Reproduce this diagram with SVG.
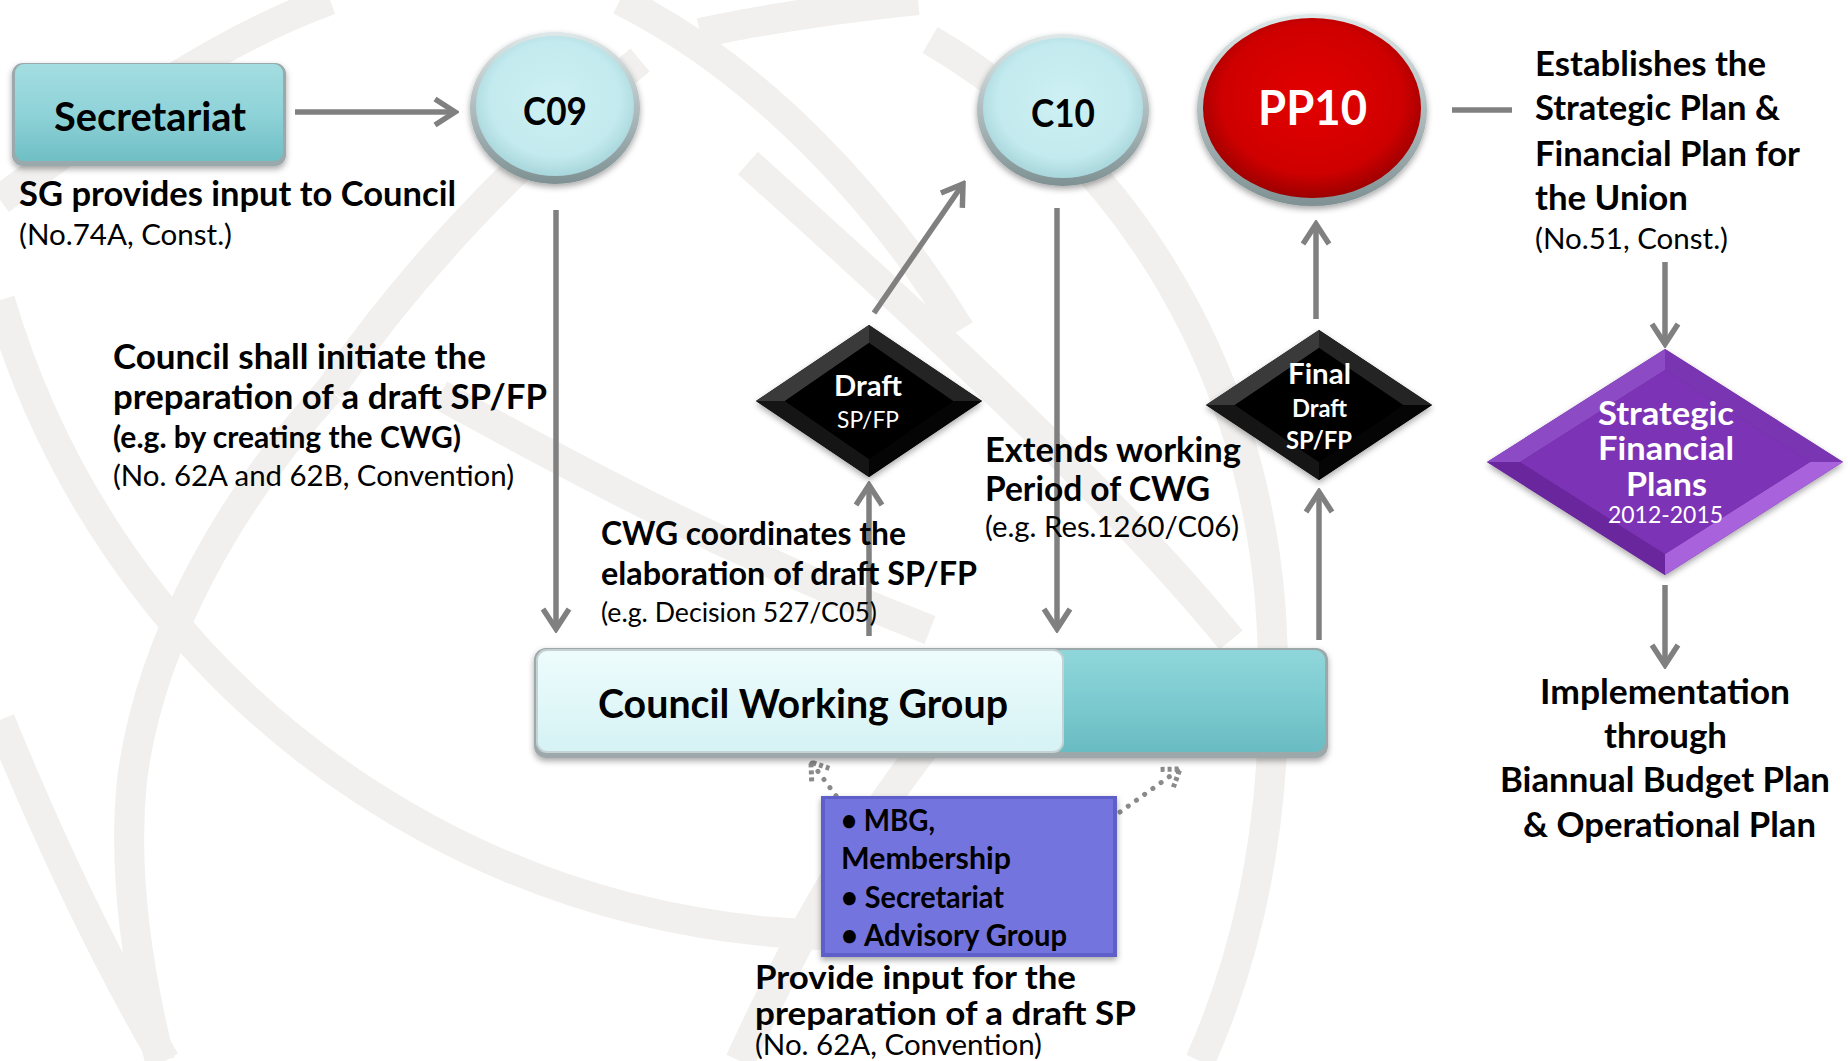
<svg xmlns="http://www.w3.org/2000/svg" width="1848" height="1061" viewBox="0 0 1848 1061">
<style>
.b{font-family:Lato,'Liberation Sans',sans-serif;font-weight:700;fill:#000}
.r{font-family:Lato,'Liberation Sans',sans-serif;font-weight:400;fill:#000}
.w{fill:#fff}
.wm{fill:none;stroke:#f1f0ee;stroke-width:30}
.ln{fill:none;stroke:#808080;stroke-width:5.5}
.dt{fill:none;stroke:#8a8a8a;stroke-width:5;stroke-linecap:round;stroke-dasharray:0.1 10}
</style>
<defs>
<marker id="ah" markerUnits="userSpaceOnUse" viewBox="-26 -17 30 34" refX="0" refY="0" markerWidth="30" markerHeight="34" orient="auto">
<path d="M-20,-13 L0,0 L-20,13" fill="none" stroke="#808080" stroke-width="5.5"/>
</marker>
<marker id="ahd" markerUnits="userSpaceOnUse" viewBox="-22 -15 26 30" refX="0" refY="0" markerWidth="26" markerHeight="30" orient="auto">
<path d="M-16,-11 L0,0 L-16,11" fill="none" stroke="#8a8a8a" stroke-width="5" stroke-dasharray="4 3"/>
</marker>
<linearGradient id="secG" x1="0" y1="0" x2="0" y2="1"><stop offset="0" stop-color="#a3dde1"/><stop offset="0.5" stop-color="#8fd3d8"/><stop offset="1" stop-color="#6fbfc5"/></linearGradient>
<radialGradient id="cyB" cx="0.5" cy="0.45" r="0.55"><stop offset="0" stop-color="#cdf0f3"/><stop offset="0.75" stop-color="#c3eaee"/><stop offset="1" stop-color="#a8d6db"/></radialGradient>
<linearGradient id="rim" x1="0" y1="0" x2="0" y2="1"><stop offset="0" stop-color="#dfe8e9"/><stop offset="1" stop-color="#7f9193"/></linearGradient>
<radialGradient id="rdB" cx="0.5" cy="0.45" r="0.55"><stop offset="0" stop-color="#e30000"/><stop offset="0.75" stop-color="#cf0000"/><stop offset="1" stop-color="#9c0000"/></radialGradient>
<linearGradient id="cwgL" x1="0" y1="0" x2="0" y2="1"><stop offset="0" stop-color="#eefcfd"/><stop offset="1" stop-color="#d5f2f4"/></linearGradient>
<linearGradient id="cwgT" x1="0" y1="0" x2="0" y2="1"><stop offset="0" stop-color="#8fd6da"/><stop offset="0.5" stop-color="#7ccbd0"/><stop offset="1" stop-color="#69bcc2"/></linearGradient>
<filter id="sh" x="-10%" y="-10%" width="120%" height="130%"><feDropShadow dx="0" dy="3" stdDeviation="3" flood-color="#000" flood-opacity="0.35"/></filter>
</defs>
<rect width="1848" height="1061" fill="#fff"/>
<g id="watermark">
<path class="wm" d="M0,300 A885,885 0 0 0 1100,899"/>
<path class="wm" d="M330,390 C230,500 150,640 132,780 C122,880 140,980 160,1061"/>
<path class="wm" d="M0,720 C45,830 100,950 165,1061"/>
<path class="wm" d="M930,40 C1120,150 1250,360 1270,600 C1285,800 1250,950 1200,1061"/>
<path class="wm" d="M330,0 C220,40 120,110 0,200"/>
<path class="wm" d="M440,395 C560,460 700,540 930,630"/>
<path class="wm" d="M748,163 C900,300 1100,480 1231,640"/>
<path class="wm" d="M700,33 C760,20 840,8 918,0"/>
<path class="wm" d="M620,0 C760,70 880,200 960,330"/>
<path class="wm" d="M740,1061 C800,930 860,830 930,740"/>
<path class="wm" d="M330,390 C420,260 520,160 640,60"/>
</g>
<g id="connectors">
<line class="ln" x1="295" y1="112" x2="455" y2="112" marker-end="url(#ah)"/>
<line class="ln" x1="556" y1="210" x2="556" y2="629" marker-end="url(#ah)"/>
<line class="ln" x1="874" y1="313" x2="963" y2="184" marker-end="url(#ah)"/>
<line class="ln" x1="869" y1="636" x2="869" y2="485" marker-end="url(#ah)"/>
<line class="ln" x1="1057" y1="208" x2="1057" y2="629" marker-end="url(#ah)"/>
<line class="ln" x1="1316" y1="319" x2="1316" y2="224" marker-end="url(#ah)"/>
<line class="ln" x1="1319" y1="640" x2="1319" y2="492" marker-end="url(#ah)"/>
<line class="ln" x1="1452" y1="110" x2="1512" y2="110"/>
<line class="ln" x1="1665" y1="262" x2="1665" y2="344" marker-end="url(#ah)"/>
<line class="ln" x1="1665" y1="585" x2="1665" y2="665" marker-end="url(#ah)"/>
<line class="dt" x1="848" y1="812" x2="811" y2="762" marker-end="url(#ahd)"/>
<line class="dt" x1="1120" y1="812" x2="1180" y2="769" marker-end="url(#ahd)"/>
</g>
<g id="secretariat">
<rect x="12" y="63" width="274" height="103" rx="11" fill="#9aa9ab" filter="url(#sh)"/>
<rect x="15" y="64" width="268" height="97" rx="9" fill="url(#secG)"/>
<text class="b" x="54" y="131" font-size="40" textLength="192" lengthAdjust="spacingAndGlyphs">Secretariat</text>
</g>
<g id="c09">
<ellipse cx="555" cy="108" rx="85" ry="76" fill="url(#rim)" filter="url(#sh)"/>
<ellipse cx="555" cy="106" rx="79" ry="70" fill="url(#cyB)"/>
<text class="b" x="523" y="125" font-size="38" textLength="64" lengthAdjust="spacingAndGlyphs">C09</text>
</g>
<g id="c10">
<ellipse cx="1063" cy="110" rx="86" ry="76" fill="url(#rim)" filter="url(#sh)"/>
<ellipse cx="1063" cy="108" rx="80" ry="70" fill="url(#cyB)"/>
<text class="b" x="1031" y="127" font-size="38" textLength="64" lengthAdjust="spacingAndGlyphs">C10</text>
</g>
<g id="pp10">
<ellipse cx="1312" cy="110" rx="115" ry="96" fill="url(#rim)" filter="url(#sh)"/>
<ellipse cx="1312" cy="108" rx="109" ry="90" fill="url(#rdB)"/>
<text class="b w" x="1258" y="125" font-size="48" textLength="109" lengthAdjust="spacingAndGlyphs">PP10</text>
</g>
<g id="sg-label">
<text class="b" x="19" y="206" font-size="34" textLength="437" lengthAdjust="spacingAndGlyphs">SG provides input to Council</text>
<text class="r" x="19" y="245" font-size="28" textLength="213" lengthAdjust="spacingAndGlyphs">(No.74A, Const.)</text>
</g>
<g id="council-label">
<text class="b" x="113" y="369" font-size="34" textLength="373" lengthAdjust="spacingAndGlyphs">Council shall initiate the</text>
<text class="b" x="113" y="409" font-size="34" textLength="434" lengthAdjust="spacingAndGlyphs">preparation of a draft SP/FP</text>
<text class="b" x="113" y="448" font-size="30" textLength="348" lengthAdjust="spacingAndGlyphs">(e.g. by creating the CWG)</text>
<text class="r" x="113" y="486" font-size="28" textLength="401" lengthAdjust="spacingAndGlyphs">(No. 62A and 62B, Convention)</text>
</g>
<g id="draft">
<polygon points="869,325 982,401 869,477 756,401" fill="#000" filter="url(#sh)"/>
<polygon points="756,401 869,325 869,343 785,401" fill="#3a3a3a"/>
<polygon points="869,325 982,401 953,401 869,343" fill="#242424"/>
<polygon points="982,401 869,477 869,459 953,401" fill="#050505"/>
<polygon points="869,477 756,401 785,401 869,459" fill="#151515"/>
<polygon points="869,343 953,401 869,459 785,401" fill="#000"/>
<text class="b w" x="834" y="396" font-size="28" textLength="68" lengthAdjust="spacingAndGlyphs">Draft</text>
<text class="r w" x="837" y="428" font-size="23" textLength="62" lengthAdjust="spacingAndGlyphs">SP/FP</text>
</g>
<g id="cwg-label">
<text class="b" x="601" y="545" font-size="33" textLength="305" lengthAdjust="spacingAndGlyphs">CWG coordinates the</text>
<text class="b" x="601" y="585" font-size="33" textLength="376" lengthAdjust="spacingAndGlyphs">elaboration of draft SP/FP</text>
<text class="r" x="601" y="622" font-size="27" textLength="276" lengthAdjust="spacingAndGlyphs">(e.g. Decision 527/C05)</text>
</g>
<g id="extends-label">
<text class="b" x="985" y="462" font-size="35" textLength="256" lengthAdjust="spacingAndGlyphs">Extends working</text>
<text class="b" x="985" y="501" font-size="35" textLength="225" lengthAdjust="spacingAndGlyphs">Period of CWG</text>
<text class="r" x="985" y="537" font-size="28" textLength="254" lengthAdjust="spacingAndGlyphs">(e.g. Res.1260/C06)</text>
</g>
<g id="final-draft">
<polygon points="1319,330 1432,405 1319,480 1206,405" fill="#000" filter="url(#sh)"/>
<polygon points="1206,405 1319,330 1319,348 1235,405" fill="#3a3a3a"/>
<polygon points="1319,330 1432,405 1403,405 1319,348" fill="#242424"/>
<polygon points="1432,405 1319,480 1319,462 1403,405" fill="#050505"/>
<polygon points="1319,480 1206,405 1235,405 1319,462" fill="#151515"/>
<polygon points="1319,348 1403,405 1319,462 1235,405" fill="#000"/>
<text class="b w" x="1288" y="384" font-size="29" textLength="63" lengthAdjust="spacingAndGlyphs">Final</text>
<text class="b w" x="1292" y="417" font-size="24" textLength="55" lengthAdjust="spacingAndGlyphs">Draft</text>
<text class="b w" x="1286" y="449" font-size="24" textLength="66" lengthAdjust="spacingAndGlyphs">SP/FP</text>
</g>
<g id="establishes-label">
<text class="b" x="1535" y="76" font-size="34" textLength="231" lengthAdjust="spacingAndGlyphs">Establishes the</text>
<text class="b" x="1535" y="120" font-size="34" textLength="245" lengthAdjust="spacingAndGlyphs">Strategic Plan &amp;</text>
<text class="b" x="1535" y="166" font-size="34" textLength="265" lengthAdjust="spacingAndGlyphs">Financial Plan for</text>
<text class="b" x="1535" y="210" font-size="34" textLength="153" lengthAdjust="spacingAndGlyphs">the Union</text>
<text class="r" x="1535" y="249" font-size="28" textLength="193" lengthAdjust="spacingAndGlyphs">(No.51, Const.)</text>
</g>
<g id="sfp">
<polygon points="1665,349 1843,462 1665,575 1487,462" fill="#6e2aa0" filter="url(#sh)"/>
<polygon points="1487,462 1665,349 1665,370 1520,462" fill="#8c4bc4"/>
<polygon points="1665,349 1843,462 1810,462 1665,370" fill="#7a36b2"/>
<polygon points="1843,462 1665,575 1665,554 1810,462" fill="#a862db"/>
<polygon points="1665,575 1487,462 1520,462 1665,554" fill="#6a269c"/>
<polygon points="1665,370 1810,462 1665,554 1520,462" fill="#7d33b5"/>
<text class="b w" x="1598" y="425" font-size="32" textLength="136" lengthAdjust="spacingAndGlyphs">Strategic</text>
<text class="b w" x="1598" y="460" font-size="32" textLength="136" lengthAdjust="spacingAndGlyphs">Financial</text>
<text class="b w" x="1626" y="496" font-size="32" textLength="81" lengthAdjust="spacingAndGlyphs">Plans</text>
<text class="r w" x="1608" y="523" font-size="23" textLength="115" lengthAdjust="spacingAndGlyphs">2012-2015</text>
</g>
<g id="implementation-label">
<text class="b" x="1540" y="704" font-size="35" textLength="250" lengthAdjust="spacingAndGlyphs">Implementation</text>
<text class="b" x="1604" y="748" font-size="35" textLength="123" lengthAdjust="spacingAndGlyphs">through</text>
<text class="b" x="1500" y="792" font-size="35" textLength="330" lengthAdjust="spacingAndGlyphs">Biannual Budget Plan</text>
<text class="b" x="1523" y="837" font-size="35" textLength="293" lengthAdjust="spacingAndGlyphs">&amp; Operational Plan</text>
</g>
<g id="cwg">
<rect x="534" y="648" width="794" height="110" rx="12" fill="#9ca8aa" filter="url(#sh)"/>
<rect x="1052" y="650" width="273" height="102" rx="10" fill="url(#cwgT)"/>
<rect x="537" y="650" width="526" height="102" rx="10" fill="url(#cwgL)" stroke="#c4d2d4" stroke-width="2"/>
<text class="b" x="598" y="718" font-size="40" textLength="410" lengthAdjust="spacingAndGlyphs">Council Working Group</text>
</g>
<g id="inputs">
<rect x="821" y="796" width="296" height="161" fill="#5f5fca" filter="url(#sh)"/>
<rect x="825" y="799" width="288" height="154" fill="#7474df"/>
<text class="b" x="841" y="831" font-size="30" textLength="94" lengthAdjust="spacingAndGlyphs">• MBG,</text>
<text class="b" x="841" y="869" font-size="30" textLength="170" lengthAdjust="spacingAndGlyphs">Membership</text>
<text class="b" x="841" y="908" font-size="30" textLength="163" lengthAdjust="spacingAndGlyphs">• Secretariat</text>
<text class="b" x="841" y="946" font-size="30" textLength="226" lengthAdjust="spacingAndGlyphs">• Advisory Group</text>
</g>
<g id="provide-label">
<text class="b" x="755" y="989" font-size="33" textLength="321" lengthAdjust="spacingAndGlyphs">Provide input for the</text>
<text class="b" x="755" y="1025" font-size="33" textLength="381" lengthAdjust="spacingAndGlyphs">preparation of a draft SP</text>
<text class="r" x="755" y="1055" font-size="28" textLength="287" lengthAdjust="spacingAndGlyphs">(No. 62A, Convention)</text>
</g>
</svg>
